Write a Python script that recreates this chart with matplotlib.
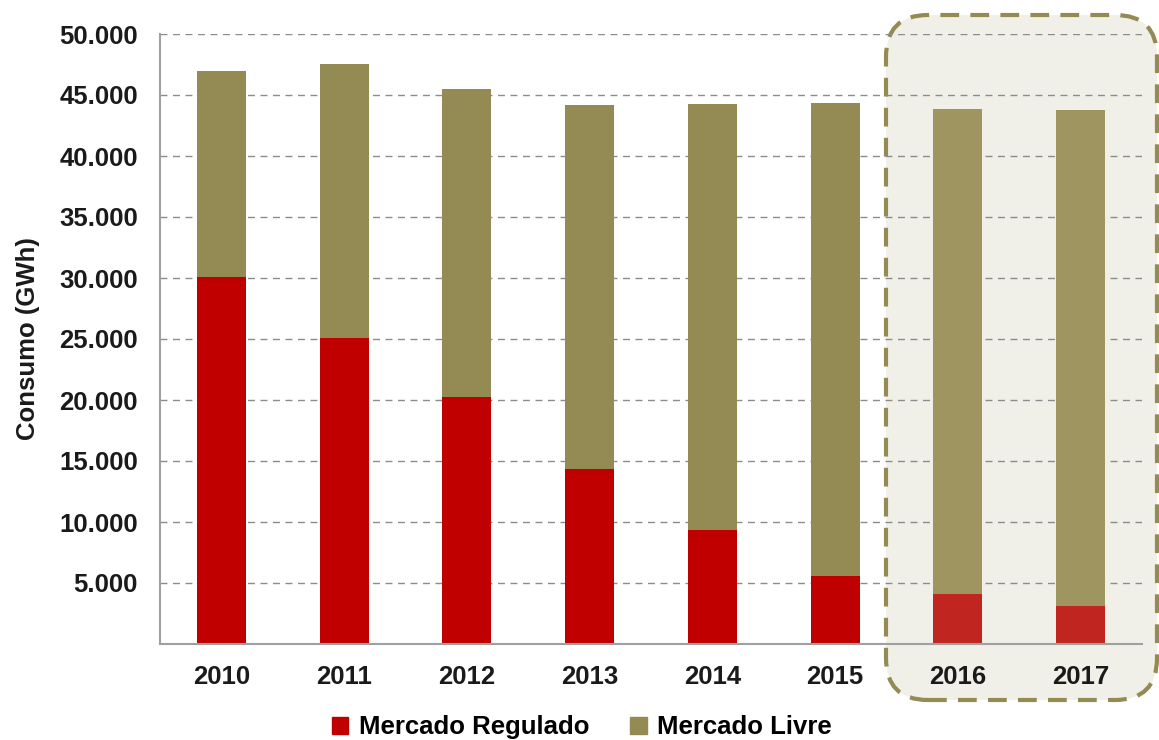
import matplotlib.pyplot as plt
from matplotlib.patches import FancyBboxPatch, Patch

plt.rcParams['font.family'] = ['Liberation Sans', 'DejaVu Sans']

anos = ['2010', '2011', '2012', '2013', '2014', '2015', '2016', '2017']
regulado = [30100, 25100, 20250, 14350, 9350, 5580, 4100, 3120]
total = [47000, 47550, 45500, 44180, 44260, 44350, 43860, 43770]
livre = [t - r for t, r in zip(total, regulado)]
destaque = ['2016', '2017']  # years inside the dashed box

cor_reg = '#C00000'
cor_livre = '#948A54'
cor_reg_d = '#C0261F'
cor_livre_d = '#9E9560'

fig = plt.figure(figsize=(11.59, 7.4), dpi=100)
ax = fig.add_axes([160 / 1159, 96 / 740, 982 / 1159, 610 / 740])
ax.set_facecolor('none')
ax.set_zorder(2)

# highlight box behind the axes, in inches
box = FancyBboxPatch((8.86, 0.40), 2.71, 6.85,
                     boxstyle='round,pad=0,rounding_size=0.42',
                     transform=fig.dpi_scale_trans, facecolor='#F0EFE8',
                     edgecolor='#948A54', linewidth=3, linestyle=(0, (4.5, 2.7)),
                     zorder=-1)
fig.patches.append(box)

x = range(len(anos))
c_reg = [cor_reg_d if a in destaque else cor_reg for a in anos]
c_liv = [cor_livre_d if a in destaque else cor_livre for a in anos]
ax.bar(x, regulado, width=0.4, color=c_reg, zorder=3)
ax.bar(x, livre, width=0.4, bottom=regulado, color=c_liv, zorder=3)

ax.set_xlim(-0.5, len(anos) - 0.5)
ax.set_ylim(0, 50000)
ax.set_yticks(range(5000, 50001, 5000))
ax.set_yticklabels([f'{v:,}'.replace(',', '.') for v in range(5000, 50001, 5000)])
ax.set_xticks(list(x))
ax.set_xticklabels(anos)
ax.tick_params(length=0, labelsize=18.5, colors='#1a1a1a')
ax.tick_params(axis='y', pad=16)
ax.tick_params(axis='x', pad=15)
for lab in ax.get_xticklabels() + ax.get_yticklabels():
    lab.set_fontweight('bold')

ax.grid(axis='y', color='#8c8c8c', linestyle=(0, (5, 4)), linewidth=1, zorder=1)
for s in ['top', 'right']:
    ax.spines[s].set_visible(False)
for s in ['left', 'bottom']:
    ax.spines[s].set_color('#a0a0a0')
    ax.spines[s].set_linewidth(1.5)
    ax.spines[s].set_zorder(4)

ax.set_ylabel('Consumo (GWh)', fontsize=18.5, fontweight='bold', color='#1a1a1a',
              labelpad=14)

handles = [Patch(color=cor_reg, label='Mercado Regulado'),
           Patch(color=cor_livre, label='Mercado Livre')]
fig.legend(handles=handles, loc='center', bbox_to_anchor=(0.502, 0.017), ncol=2,
           frameon=False, handlelength=0.65, handleheight=0.65, handletextpad=0.4,
           columnspacing=1.6, prop={'size': 18.5, 'weight': 'bold'})

fig.savefig('out.png', dpi=100)
